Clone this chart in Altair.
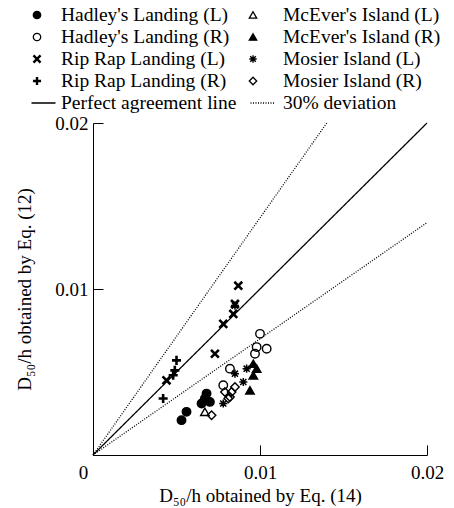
import altair as alt
import pandas as pd

# ---------------- data ----------------
series_names = [
    "Hadley's Landing (L)", "Hadley's Landing (R)",
    "Rip Rap Landing (L)", "Rip Rap Landing (R)",
    "McEver's Island (L)", "McEver's Island (R)",
    "Mosier Island (L)", "Mosier Island (R)",
]

hadley_l_x = [0.0053, 0.0056, 0.0065, 0.0067, 0.0068, 0.0070]
hadley_l_y = [0.0021, 0.0026, 0.0031, 0.0034, 0.0037, 0.0032]
hadley_r_x = [0.0100, 0.0098, 0.0104, 0.0097, 0.0082, 0.0078]
hadley_r_y = [0.0073, 0.0065, 0.0064, 0.0061, 0.0052, 0.0042]
riprap_l_x = [0.0087, 0.0085, 0.0084, 0.0078, 0.0073, 0.0044]
riprap_l_y = [0.0102, 0.0091, 0.0085, 0.0079, 0.0061, 0.0045]
riprap_r_x = [0.0050, 0.0049, 0.0048, 0.0042]
riprap_r_y = [0.0057, 0.0051, 0.0048, 0.0034]
mcever_l_x = [0.0067]
mcever_l_y = [0.0026]
mcever_r_x = [0.0096, 0.0098, 0.0096, 0.0094]
mcever_r_y = [0.0055, 0.0052, 0.0048, 0.0039]
mosier_l_x = [0.0085, 0.0092, 0.0085, 0.0090, 0.0078]
mosier_l_y = [0.0090, 0.0052, 0.0049, 0.0044, 0.0031]
mosier_r_x = [0.0079, 0.0083, 0.0082, 0.0081, 0.0085, 0.0071]
mosier_r_y = [0.0038, 0.0038, 0.0035, 0.0034, 0.0041, 0.0024]

ref_names = ["Perfect agreement line", "30% deviation", "30% deviation"]
ref_x_end = [0.02, 0.014, 0.02]
ref_y_end = [0.02, 0.02, 0.014]
line_legend_names = ["Perfect agreement line", "30% deviation"]

x_ticks = [0, 0.01, 0.02]
y_ticks = [0.01, 0.02]

# ---------------- styles ----------------
CROSS = "M-1,-1L1,1M-1,1L1,-1"
PLUS = "M-1.15,0H1.15M0,-1.15V1.15"
ASTER = "M-1,0H1M0,-1V1M-0.75,-0.75L0.75,0.75M-0.75,0.75L0.75,-0.75"
shape_range = ["circle", "circle", CROSS, PLUS, "triangle-up", "triangle-up", ASTER, "diamond"]
fill_range = ["black", "transparent", "transparent", "transparent",
              "transparent", "black", "transparent", "transparent"]
bold_series = ["Rip Rap Landing (L)", "Rip Rap Landing (R)"]
star_series = ["Mosier Island (L)"]
thin_series = [s for s in series_names if s not in bold_series + star_series]

FONT = "Liberation Serif"

# ---------------- tables ----------------
xs = [hadley_l_x, hadley_r_x, riprap_l_x, riprap_r_x, mcever_l_x, mcever_r_x, mosier_l_x, mosier_r_x]
ys = [hadley_l_y, hadley_r_y, riprap_l_y, riprap_r_y, mcever_l_y, mcever_r_y, mosier_l_y, mosier_r_y]
rows = []
for name, xv, yv in zip(series_names, xs, ys):
    for a, b in zip(xv, yv):
        rows.append({"series": name, "x": a, "y": b})
points_df = pd.DataFrame(rows)

ref_df = pd.DataFrame({
    "line": ref_names,
    "x0": [0.0] * len(ref_names),
    "y0": [0.0] * len(ref_names),
    "x1": ref_x_end,
    "y1": ref_y_end,
})

legend_df = pd.DataFrame({
    "series": series_names,
    "col": [i // 4 for i in range(len(series_names))],
    "row": [i % 4 for i in range(len(series_names))],
})
line_leg_df = pd.DataFrame({
    "line": line_legend_names,
    "col": list(range(len(line_legend_names))),
    "row": [4] * len(line_legend_names),
})

# ---------------- scales ----------------
dom = [0, 0.02]
xs_ = alt.Scale(domain=dom, nice=False, zero=True)
ys_ = alt.Scale(domain=dom, nice=False, zero=True)
shape_scale = alt.Scale(domain=series_names, range=shape_range)
fill_scale = alt.Scale(domain=series_names, range=fill_range)
dash_scale = alt.Scale(domain=line_legend_names, range=[[1, 0], [1, 1.5]])

leg_row = alt.Scale(domain=[0, 4], range=[-108, -20])
leg_sym_x = alt.Scale(domain=[0, 1], range=[-56, 160])
leg_txt_x = alt.Scale(domain=[0, 1], range=[-32, 190])

x_axis = alt.Axis(
    values=x_ticks, format=".2~f", title="D₅₀/h obtained by Eq. (14)",
    ticks=False, tickSize=0, labelFlush=False, labelPadding=8,
    labelOffset={"condition": {"test": "datum.value == 0", "value": -10}, "value": 0},
    grid=True, gridColor="black", gridOpacity=1, gridWidth=1, gridDash=[0, 322, 10, 2000],
    domainColor="black", domainWidth=1,
    labelFont=FONT, labelFontSize=19, labelColor="black",
    titleFont=FONT, titleFontSize=19, titleFontWeight="normal", titleColor="black",
    titlePadding=4,
)
y_axis = alt.Axis(
    values=y_ticks, format=".2~f", title="D₅₀/h obtained by Eq. (12)",
    ticks=False, tickSize=0, labelFlush=False, labelPadding=5,
    grid=True, gridColor="black", gridOpacity=1, gridWidth=1, gridDash=[10, 2000],
    domainColor="black", domainWidth=1,
    labelFont=FONT, labelFontSize=19, labelColor="black",
    titleFont=FONT, titleFontSize=19, titleFontWeight="normal", titleColor="black",
    titlePadding=20,
)

ref_layer = alt.Chart(ref_df).mark_rule(color="black", strokeWidth=1.3).encode(
    x=alt.X("x0:Q", scale=xs_, axis=x_axis),
    y=alt.Y("y0:Q", scale=ys_, axis=y_axis),
    x2="x1:Q",
    y2="y1:Q",
    strokeDash=alt.StrokeDash("line:N", scale=dash_scale, legend=None),
)


def point_layer(group, sw, size):
    return alt.Chart(points_df).transform_filter(
        alt.FieldOneOfPredicate(field="series", oneOf=group)
    ).mark_point(filled=False, stroke="black", opacity=1, size=size, strokeWidth=sw).encode(
        x=alt.X("x:Q", scale=xs_, axis=None),
        y=alt.Y("y:Q", scale=ys_, axis=None),
        shape=alt.Shape("series:N", scale=shape_scale, legend=None),
        fill=alt.Fill("series:N", scale=fill_scale, legend=None),
    )


def legend_symbol_layer(group, sw, size):
    return alt.Chart(legend_df).transform_filter(
        alt.FieldOneOfPredicate(field="series", oneOf=group)
    ).mark_point(filled=False, stroke="black", opacity=1, size=size, strokeWidth=sw).encode(
        x=alt.X("col:Q", scale=leg_sym_x, axis=None),
        y=alt.Y("row:Q", scale=leg_row, axis=None),
        shape=alt.Shape("series:N", scale=shape_scale, legend=None),
        fill=alt.Fill("series:N", scale=fill_scale, legend=None),
    )


pt_thin = point_layer(thin_series, 1.4, 72)
pt_bold = point_layer(bold_series, 2.6, 62)
pt_star = point_layer(star_series, 1.5, 66)
leg_thin = legend_symbol_layer(thin_series, 1.3, 55)
leg_bold = legend_symbol_layer(bold_series, 2.4, 50)
leg_star = legend_symbol_layer(star_series, 1.4, 55)

leg_txt = alt.Chart(legend_df).mark_text(
    align="left", baseline="middle", font=FONT, fontSize=19.5, color="black"
).encode(
    x=alt.X("col:Q", scale=leg_txt_x, axis=None),
    y=alt.Y("row:Q", scale=leg_row, axis=None),
    text="series:N",
)

leg_line = alt.Chart(line_leg_df).mark_point(
    shape="M-1,0H1", size=576, filled=False, stroke="black", opacity=1, strokeWidth=1.4
).encode(
    x=alt.X("col:Q", scale=alt.Scale(domain=[0, 1], range=[-49.5, 169.5]), axis=None),
    y=alt.Y("row:Q", scale=leg_row, axis=None),
    strokeDash=alt.StrokeDash("line:N", scale=dash_scale, legend=None),
)

leg_line_txt = alt.Chart(line_leg_df).mark_text(
    align="left", baseline="middle", font=FONT, fontSize=19.5, color="black"
).encode(
    x=alt.X("col:Q", scale=leg_txt_x, axis=None),
    y=alt.Y("row:Q", scale=leg_row, axis=None),
    text="line:N",
)

chart = alt.layer(
    ref_layer, pt_thin, pt_bold, pt_star, leg_thin, leg_bold, leg_star,
    leg_txt, leg_line, leg_line_txt
).resolve_scale(
    x="independent", y="independent"
).properties(
    width=334, height=332,
    autosize=alt.AutoSizeParams(type="none"),
    padding={"left": 93, "top": 123, "right": 27, "bottom": 53},
    background="white",
).configure_view(stroke=None)

chart.save("out.html", embed_options={"renderer": "svg", "actions": False})
